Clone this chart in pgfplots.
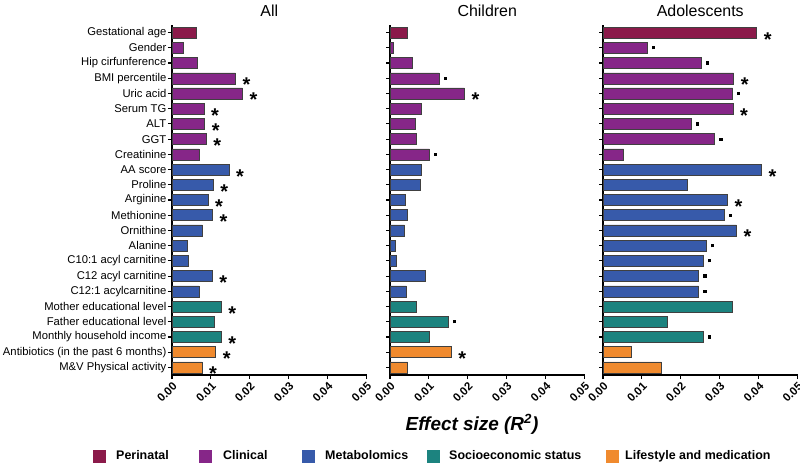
\documentclass[border=0pt]{standalone}
\usepackage{fontspec}
\setmainfont{Liberation Sans}
\usepackage{pgfplots}
\pgfplotsset{compat=1.18}

\definecolor{peri}{RGB}{139,26,74}
\definecolor{clin}{RGB}{134,38,136}
\definecolor{meta}{RGB}{55,90,170}
\definecolor{soc}{RGB}{28,131,127}
\definecolor{life}{RGB}{240,138,46}

% significance marks, used as point meta
\newcommand\st{\hspace{7bp}\smash{\raisebox{-13.5bp}{\fontsize{20}{20}\selectfont\bfseries *}}}
\newcommand\dt{\hspace{4.5bp}\smash{\raisebox{-1.6bp}{\rule{3.2bp}{3.2bp}}}}
\newcommand\no{}

\pgfplotsset{
  catbar/.style={fill=#1, draw=black!75, line width=0.5bp},
  panel/.style={
    scale only axis, width=194.5bp, height=350bp, anchor=south west,
    xbar, bar shift=0pt, bar width=11bp,
    xmin=0, xmax=0.05, ymin=-0.5, ymax=22.5, y dir=reverse,
    axis x line*=bottom, axis y line*=left,
    axis line style={line width=1.3bp, black},
    tick align=outside, major tick length=4bp,
    every tick/.style={black, line width=1.1bp},
    xtick={0,0.01,0.02,0.03,0.04,0.05},
    ytick={0,...,22},
    scaled x ticks=false,
    x tick label style={rotate=45, anchor=north east, inner sep=1.5bp, font=\fontsize{11.5}{11.5}\selectfont\bfseries,
      /pgf/number format/.cd, fixed, fixed zerofill, precision=2, assume math mode=true},
    y tick label style={font=\fontsize{11.3}{11.3}\selectfont, inner xsep=1.5bp},
    title style={font=\fontsize{16}{16}\selectfont, anchor=south, at={(0.5,1)}, yshift=-1bp},
    nodes near coords, point meta=explicit symbolic,
    nodes near coords style={anchor=west, inner sep=0pt},
    clip=false,
  },
}

\begin{document}
\begin{tikzpicture}
\useasboundingbox (0,0) rectangle (800bp,464bp);

% ---- All ----
\begin{axis}[panel, at={(172bp,89bp)}, title={All},
  yticklabels={Gestational age, Gender, Hip cirfunference, BMI percentile, Uric acid, Serum TG, ALT, GGT, Creatinine, AA score, Proline, Arginine, Methionine, Ornithine, Alanine, C10:1 acyl carnitine, C12 acyl carnitine, C12:1 acylcarnitine, Mother educational level, Father educational level, Monthly household income, Antibiotics (in the past 6 months), M\&V Physical activity}]
\addplot[catbar=peri] coordinates {(0.0062,0) [\no]};
\addplot[catbar=clin] coordinates {(0.0028,1) [\no] (0.0065,2) [\no] (0.0163,3) [\st] (0.0181,4) [\st] (0.0082,5) [\st] (0.0084,6) [\st] (0.0088,7) [\st] (0.0070,8) [\no]};
\addplot[catbar=meta] coordinates {(0.0146,9) [\st] (0.0106,10) [\st] (0.0092,11) [\st] (0.0104,12) [\st] (0.0078,13) [\no] (0.0038,14) [\no] (0.0041,15) [\no] (0.0103,16) [\st] (0.0070,17) [\no]};
\addplot[catbar=soc] coordinates {(0.0126,18) [\st] (0.0108,19) [\no] (0.0126,20) [\st]};
\addplot[catbar=life] coordinates {(0.0112,21) [\st] (0.0077,22) [\st]};
\end{axis}

% ---- Children ----
\begin{axis}[panel, at={(390bp,89bp)}, title={Children}, yticklabels={}]
\addplot[catbar=peri] coordinates {(0.0045,0) [\no]};
\addplot[catbar=clin] coordinates {(0.0009,1) [\no] (0.0056,2) [\no] (0.0126,3) [\dt] (0.0191,4) [\st] (0.0081,5) [\no] (0.0064,6) [\no] (0.0068,7) [\no] (0.0101,8) [\dt]};
\addplot[catbar=meta] coordinates {(0.0081,9) [\no] (0.0078,10) [\no] (0.0039,11) [\no] (0.0045,12) [\no] (0.0037,13) [\no] (0.0013,14) [\no] (0.0016,15) [\no] (0.0091,16) [\no] (0.0042,17) [\no]};
\addplot[catbar=soc] coordinates {(0.0067,18) [\no] (0.0150,19) [\dt] (0.0102,20) [\no]};
\addplot[catbar=life] coordinates {(0.0157,21) [\st] (0.0045,22) [\no]};
\end{axis}

% ---- Adolescents ----
\begin{axis}[panel, at={(603bp,89bp)}, title={Adolescents}, yticklabels={}]
\addplot[catbar=peri] coordinates {(0.0395,0) [\st]};
\addplot[catbar=clin] coordinates {(0.0114,1) [\dt] (0.0253,2) [\dt] (0.0336,3) [\st] (0.0333,4) [\dt] (0.0334,5) [\st] (0.0227,6) [\dt] (0.0287,7) [\dt] (0.0053,8) [\no]};
\addplot[catbar=meta] coordinates {(0.0407,9) [\st] (0.0216,10) [\no] (0.0320,11) [\st] (0.0312,12) [\dt] (0.0343,13) [\st] (0.0265,14) [\dt] (0.0258,15) [\dt] (0.0246,16) [\dt] (0.0246,17) [\dt]};
\addplot[catbar=soc] coordinates {(0.0332,18) [\no] (0.0165,19) [\no] (0.0258,20) [\dt]};
\addplot[catbar=life] coordinates {(0.0072,21) [\no] (0.0150,22) [\no]};
\end{axis}

\node[anchor=base, font=\fontsize{19}{19}\selectfont\bfseries\itshape] at (472bp,34bp) {Effect size (R\textsuperscript{2})};

\foreach \c/\xs/\xt/\t in {peri/93/116/Perinatal, clin/199/223/Clinical, meta/302/325/Metabolomics, soc/427/449/Socioeconomic status, life/606/625/Lifestyle and medication}{
  \fill[\c] (\xs bp,1bp) rectangle ++(13bp,13bp);
  \node[anchor=base west, inner sep=0pt, font=\fontsize{12.5}{12.5}\selectfont\bfseries] at (\xt bp,4.5bp) {\t};
}
\end{tikzpicture}
\end{document}
